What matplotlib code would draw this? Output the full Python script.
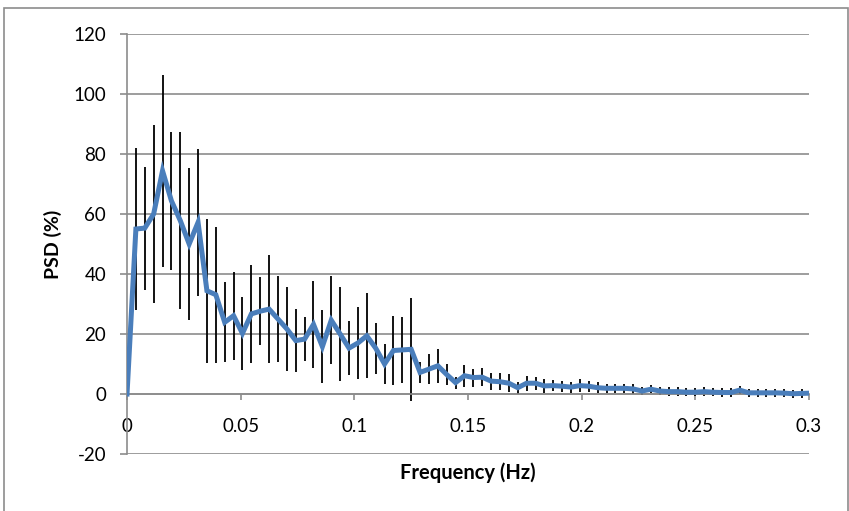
import numpy as np
import matplotlib.pyplot as plt
from matplotlib.patches import Rectangle

plt.rcParams['font.family'] = ['Lato', 'DejaVu Sans']
plt.rcParams['axes.unicode_minus'] = False

# frequency bins of 1/256 Hz
step = 1 / 256
psd = [0, 55, 55.3, 60, 74.4, 64.4, 57.8, 50, 57.2, 34.4,
       33.1, 23.9, 26.1, 20.2, 26.7, 27.6, 28.3, 25, 21.7, 17.8,
       18.3, 23.2, 15.8, 24.6, 20, 15.3, 17, 19.4, 15.3, 10,
       14.5, 14.7, 14.9, 7.2, 8.3, 9.4, 6.5, 3.8, 6.1, 5.5,
       5.6, 4.3, 4.1, 3.6, 2.1, 3.6, 3.6, 2.7, 2.8, 2.6,
       2.3, 2.8, 2.6, 2.1, 1.9, 1.9, 1.9, 1.7, 1.0, 1.6,
       1.0, 0.8, 0.8, 0.6, 0.6, 0.8, 0.6, 0.5, 0.5, 1.3,
       0.4, 0.4, 0.4, 0.4, 0.3, 0.1, 0.2, 0.3]
err = [0, 27, 20.5, 29.7, 32, 23, 29.4, 25.3, 24.6, 24,
       22.7, 13.3, 14.6, 12.2, 16.4, 11.3, 18, 14.3, 14, 10.5,
       7.4, 14.6, 12.2, 14.7, 15.7, 8.9, 11.9, 14.2, 8.5, 6.7,
       11.4, 11.1, 17.1, 3.5, 5, 5.6, 3.6, 2, 3.6, 3,
       3, 2.8, 2.8, 3, 2, 2.5, 2.2, 2.2, 1.8, 1.8,
       1.8, 2.2, 1.8, 1.8, 1.6, 1.6, 1.6, 1.6, 1.4, 1.4,
       1.4, 1.4, 1.4, 1.4, 1.4, 1.4, 1.4, 1.4, 1.4, 1.4,
       1.4, 1.4, 1.4, 1.4, 1.4, 1.4, 1.4, 1.4]
freq = np.arange(len(psd)) * step

fig = plt.figure(figsize=(8.49, 5.11), dpi=100)
ax = fig.add_axes([0.1496, 0.1115, 0.8033, 0.822])

ax.errorbar(freq, psd, yerr=err, fmt='none', ecolor='black', elinewidth=1.3, capsize=0, zorder=2)
ax.plot(freq, psd, color='#4a7ebb', lw=3.6, solid_joinstyle='miter', zorder=3)

ax.set_xlim(0, 0.3)
ax.set_ylim(-20, 120)
ax.set_xticks([0, 0.05, 0.1, 0.15, 0.2, 0.25, 0.3])
ax.set_xticklabels(['0', '0.05', '0.1', '0.15', '0.2', '0.25', '0.3'])
ax.set_yticks(range(-20, 121, 20))

ax.grid(axis='y', color='#8c8c8c', lw=1.2)
ax.set_axisbelow(True)
for s in ['top', 'right']:
    ax.spines[s].set_visible(False)
ax.spines['bottom'].set_position(('data', 0))
ax.spines['bottom'].set_color('#8c8c8c')
ax.spines['bottom'].set_linewidth(1.2)
ax.spines['left'].set_color('#8c8c8c')
ax.spines['left'].set_linewidth(1.2)
ax.tick_params(axis='y', length=5, color='#8c8c8c', width=1.2, pad=10, labelsize=13.5)
ax.tick_params(axis='x', length=4, color='#8c8c8c', width=1.2, pad=13, labelsize=13.5)

ax.set_xlabel('Frequency (Hz)', fontsize=14.5, fontweight='bold')
ax.xaxis.set_label_coords(0.5, -0.02)
ax.set_ylabel('PSD (%)', fontsize=14, fontweight='bold')
ax.yaxis.set_label_coords(-0.095, 0.5)

# chart border
fig.patches.append(Rectangle((4 / 849, -0.01), 844 / 849, 1 - 8 / 511 + 0.01,
                             transform=fig.transFigure, fill=False,
                             edgecolor='#8c8c8c', lw=1.2))

fig.savefig('out.png', dpi=100)
